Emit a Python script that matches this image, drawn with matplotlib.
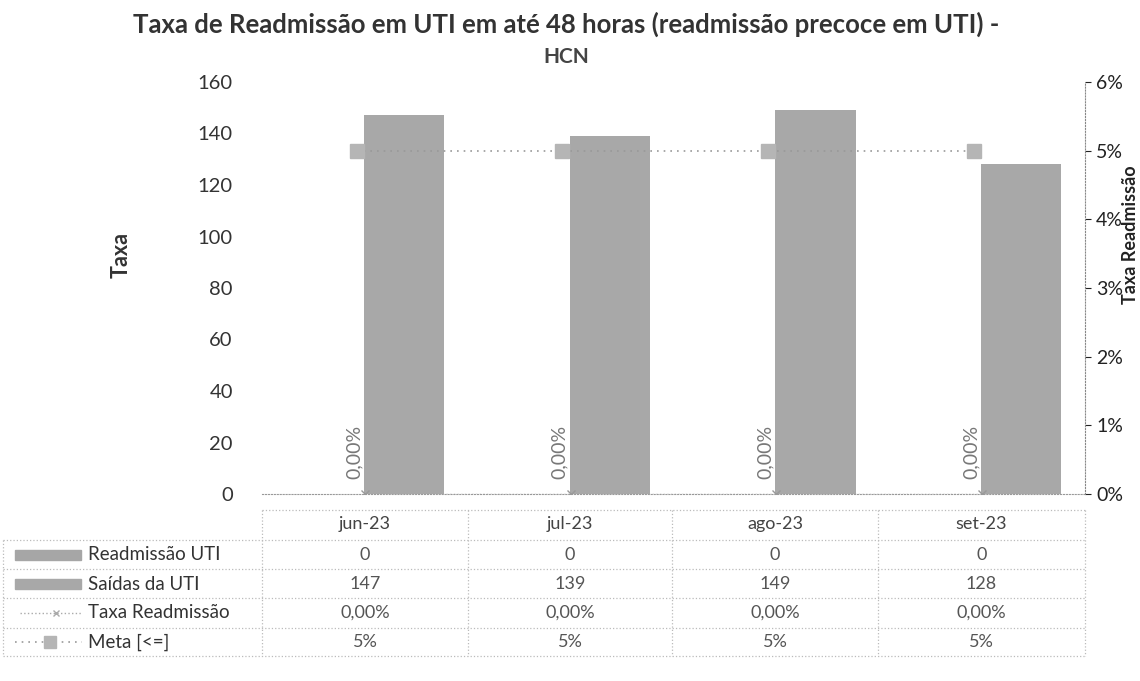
import matplotlib
matplotlib.use('Agg')
import matplotlib.pyplot as plt
import numpy as np

plt.rcParams['font.family'] = ['Lato', 'DejaVu Sans']

meses = ['jun-23', 'jul-23', 'ago-23', 'set-23']
readmissao = [0, 0, 0, 0]
saidas = [147, 139, 149, 128]
taxa = [0.0, 0.0, 0.0, 0.0]
meta = [5, 5, 5, 5]
taxa_txt = ['0,00%', '0,00%', '0,00%', '0,00%']
meta_txt = ['5%', '5%', '5%', '5%']

W, H = 1140, 681
fig = plt.figure(figsize=(W / 100, H / 100), dpi=100)

def fx(px):
    return px / W

def fy(py):
    return 1 - py / H

# plot area in pixels: x 262..1085, y 82..494
ax = fig.add_axes([fx(262), fy(494), fx(1085 - 262), fy(82) - fy(494)])
ax2 = ax.twinx()

x = np.arange(len(meses))
ax.bar(x - 0.19, readmissao, width=0.39, color='#a6a6a6')
ax.bar(x + 0.19, saidas, width=0.39, color='#a8a8a8')
ax.set_xlim(-0.5, 3.5)
ax.set_ylim(0, 160)
ax.set_yticks(range(0, 161, 20))
ax.tick_params(axis='y', length=0, labelsize=14.5, colors='#333333', pad=21)
ax.set_xticks([])
for s in ['top', 'right', 'left']:
    ax.spines[s].set_visible(False)
ax.spines['bottom'].set_linestyle(':')
ax.spines['bottom'].set_color('#999999')

ax2.plot(x, taxa, linestyle=':', color='#aaaaaa', marker='x', markersize=6,
         markeredgecolor='#999999', lw=1)
ax2.plot(x - 0.04, meta, linestyle=(0, (1, 3)), color='#999999', marker='s', markersize=10,
         markerfacecolor='#b5b5b5', markeredgecolor='#b5b5b5', lw=1.2)
ax2.set_ylim(0, 6)
ax2.set_yticks(range(0, 7))
ax2.set_yticklabels([f'{v}%' for v in range(0, 7)])
ax2.tick_params(axis='y', length=4, labelsize=14, colors='#222222', pad=4)
for s in ['top', 'left', 'bottom']:
    ax2.spines[s].set_visible(False)
ax2.spines['right'].set_linestyle(':')
ax2.spines['right'].set_color('#888888')
for i, t in enumerate(taxa_txt):
    ax2.annotate(t, (x[i], taxa[i]), xytext=(-8, 11), textcoords='offset points',
                 rotation=90, ha='center', va='bottom', fontsize=14, color='#777777')

fig.text(fx(566), fy(24), 'Taxa de Readmissão em UTI em até 48 horas (readmissão precoce em UTI) -',
         ha='center', va='center', fontsize=18.5, fontweight='bold', color='#333333')
fig.text(fx(566), fy(57), 'HCN', ha='center', va='center', fontsize=15,
         fontweight='bold', color='#444444')
fig.text(fx(121), fy(255), 'Taxa', rotation=90, ha='center', va='center',
         fontsize=15.5, fontweight='bold', color='#333333')
fig.text(fx(1131), fy(235), 'Taxa Readmissão', rotation=90, ha='center', va='center',
         fontsize=13, fontweight='bold', color='#222222')

# data table
col_edges = [262, 468, 672, 878, 1085]
row_lines = [510, 540, 569, 598, 628, 656]
lc = '#bbbbbb'
for yy in row_lines:
    x0 = 262 if yy == row_lines[0] else 3
    fig.add_artist(plt.Line2D([fx(x0), fx(1085)], [fy(yy), fy(yy)], color=lc,
                              ls=':', lw=0.9))
for xx in [3] + col_edges:
    y0 = row_lines[0] if xx != 3 else row_lines[1]
    fig.add_artist(plt.Line2D([fx(xx), fx(xx)], [fy(y0), fy(row_lines[-1])], color=lc,
                              ls=':', lw=0.9))

centros = [(col_edges[i] + col_edges[i + 1]) / 2 for i in range(4)]
for i, m in enumerate(meses):
    fig.text(fx(centros[i]), fy(524), m, ha='center', va='center', fontsize=13, color='#444444')

linhas = [('Readmissão UTI', [str(v) for v in readmissao]),
          ('Saídas da UTI', [str(v) for v in saidas]),
          ('Taxa Readmissão', taxa_txt),
          ('Meta [<=]', meta_txt)]
row_y = [555, 584, 613, 642]
for r, (nome, vals) in enumerate(linhas):
    yy = row_y[r]
    fig.text(fx(88), fy(yy), nome, ha='left', va='center', fontsize=13.5, color='#333333')
    for i, v in enumerate(vals):
        fig.text(fx(centros[i]), fy(yy), v, ha='center', va='center', fontsize=13,
                 color='#555555')

# legend keys
fig.add_artist(plt.Rectangle((fx(15), fy(row_y[0] + 5)), fx(66), fy(row_y[0] - 5) - fy(row_y[0] + 5),
                             color='#a6a6a6'))
fig.add_artist(plt.Rectangle((fx(15), fy(row_y[1] + 5)), fx(66), fy(row_y[1] - 5) - fy(row_y[1] + 5),
                             color='#a8a8a8'))
fig.add_artist(plt.Line2D([fx(20), fx(56), fx(82)], [fy(row_y[2])] * 3, color='#aaaaaa',
                          ls=':', lw=1, marker='x', markevery=[1], markersize=5))
fig.add_artist(plt.Line2D([fx(15), fx(50), fx(82)], [fy(row_y[3])] * 3, color='#999999',
                          ls=(0, (1, 3)), lw=1.2, marker='s', markevery=[1], markersize=8,
                          markerfacecolor='#b5b5b5', markeredgecolor='#b5b5b5'))

fig.savefig('out.png', dpi=100)
